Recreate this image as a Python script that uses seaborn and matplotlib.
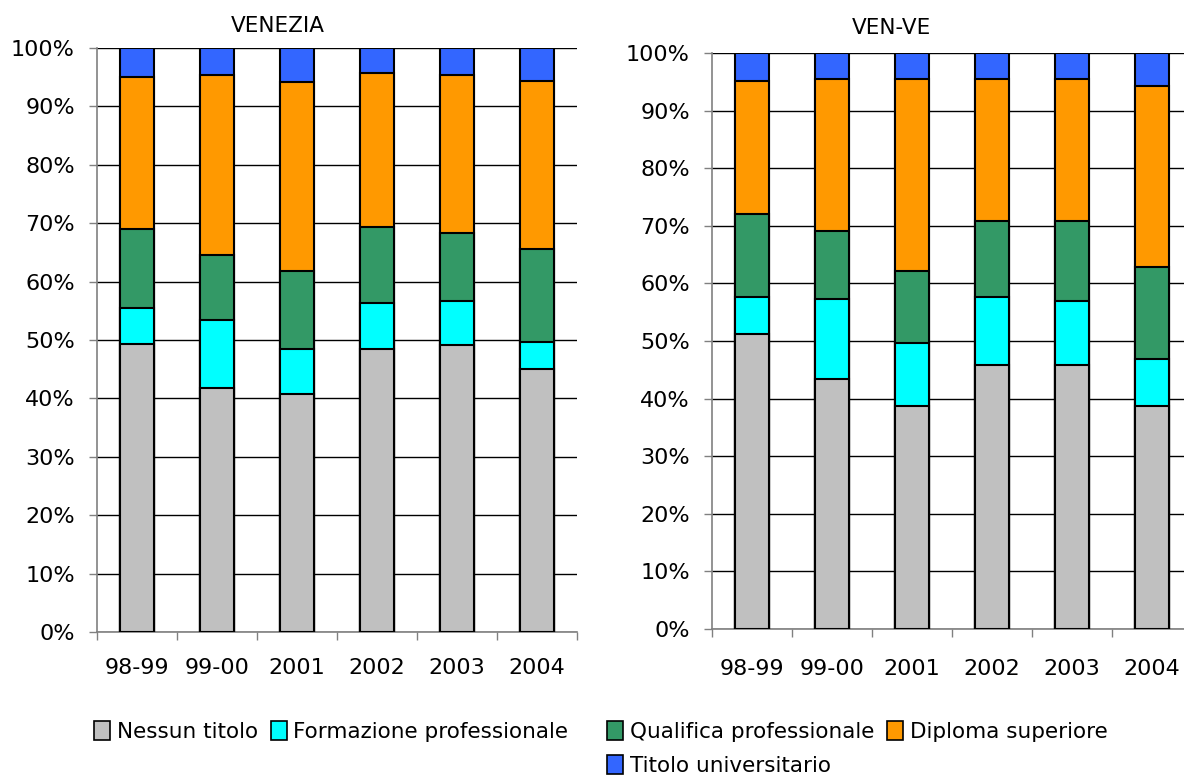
import matplotlib
matplotlib.use("Agg")

import matplotlib.pyplot as plt
import pandas as pd
import seaborn as sns
from matplotlib.patches import Patch
from matplotlib.ticker import FixedLocator

# ---------------------------------------------------------------------------
# Data (percent shares)
# ---------------------------------------------------------------------------
years = ["98-99", "99-00", "2001", "2002", "2003", "2004"]
categories = [
    "Nessun titolo",
    "Formazione professionale",
    "Qualifica professionale",
    "Diploma superiore",
    "Titolo universitario",
]
colors = ["#C0C0C0", "#00FFFF", "#339966", "#FF9900", "#3366FF"]

venezia_nessun = [49.4, 41.8, 40.8, 48.4, 49.1, 45.0]
venezia_formazione = [6.1, 11.7, 7.6, 7.9, 7.6, 4.7]
venezia_qualifica = [13.5, 11.0, 13.4, 13.1, 11.6, 15.9]
venezia_diploma = [26.1, 30.9, 32.3, 26.4, 27.1, 28.8]
venezia_laurea = [4.9, 4.6, 5.9, 4.2, 4.6, 5.6]

venve_nessun = [51.3, 43.4, 38.8, 45.8, 45.8, 38.8]
venve_formazione = [6.3, 13.9, 10.8, 11.8, 11.2, 8.1]
venve_qualifica = [14.4, 11.8, 12.6, 13.2, 13.8, 16.0]
venve_diploma = [23.2, 26.4, 33.3, 24.7, 24.7, 31.3]
venve_laurea = [4.8, 4.5, 4.5, 4.5, 4.5, 5.8]

panels = [
    ("VENEZIA", [venezia_nessun, venezia_formazione, venezia_qualifica,
                 venezia_diploma, venezia_laurea]),
    ("VEN-VE", [venve_nessun, venve_formazione, venve_qualifica,
                venve_diploma, venve_laurea]),
]

# ---------------------------------------------------------------------------
# Figure
# ---------------------------------------------------------------------------
sns.set_style("white")
plt.rcParams["font.family"] = ["DejaVu Sans"]
plt.rcParams["text.color"] = "black"
plt.rcParams["xtick.labelcolor"] = "black"
plt.rcParams["ytick.labelcolor"] = "black"

fig = plt.figure(figsize=(11.84, 7.79), dpi=100)
W, H = 1184, 779
# left px, right px, bottom px, top px, title x, title pad, xlabel pad
axes_px = [(97, 577, 632, 48, 0.377, 11.5, 19),
           (712, 1192, 629, 53, 0.373, 13.5, 21.5)]

for (title, series), (x0, x1, yb, yt, tx, tpad, xpad) in zip(panels, axes_px):
    ax = fig.add_axes([x0 / W, 1 - yb / H, (x1 - x0) / W, (yb - yt) / H])

    df = pd.DataFrame({"year": years})
    running = [0.0] * len(years)
    for cat, vals in zip(categories, series):
        running = [r + v for r, v in zip(running, vals)]
        df[cat] = running

    # stacked bars: draw cumulative totals, top layer first
    for cat, col in reversed(list(zip(categories, colors))):
        sns.barplot(data=df, x="year", y=cat, order=years, color=col,
                    saturation=1, width=0.42, edgecolor="black",
                    linewidth=1.5, errorbar=None, ax=ax, zorder=3)

    ax.set_xlim(-0.5, 5.5)
    ax.set_ylim(0, 100)
    ax.set_yticks(range(0, 101, 10))
    ax.set_yticklabels([f"{v}%" for v in range(0, 101, 10)])
    ax.xaxis.set_minor_locator(FixedLocator([i - 0.5 for i in range(7)]))
    ax.tick_params(axis="x", which="major", length=0, pad=xpad, labelsize=16)
    ax.tick_params(axis="x", which="minor", length=6, width=1,
                   color="#808080", direction="out", bottom=True)
    ax.tick_params(axis="y", length=6, width=1, color="#808080",
                   direction="out", left=True, pad=10, labelsize=16)
    ax.yaxis.grid(True, color="black", linewidth=1)
    ax.set_axisbelow(True)
    for side in ("top", "right"):
        ax.spines[side].set_visible(False)
    for side in ("left", "bottom"):
        ax.spines[side].set_color("#808080")
        ax.spines[side].set_linewidth(1.2)
    ax.set_xlabel("")
    ax.set_ylabel("")
    ax.set_title(title, fontsize=15.5, x=tx, pad=tpad, color="black")

# legend split in two blocks like the original
handles = [Patch(facecolor=c, edgecolor="black", linewidth=1.2) for c in colors]
leg_kw = dict(frameon=False, fontsize=15.5, handlelength=0.75,
              handleheight=0.95, handletextpad=0.3, columnspacing=0.6,
              labelspacing=0.62, borderpad=0, borderaxespad=0,
              loc="upper left")
fig.legend(handles[:2], categories[:2], ncol=2,
           bbox_to_anchor=(94 / W, 1 - 721 / H), **leg_kw)
fig.legend([handles[2], handles[4], handles[3]],
           [categories[2], categories[4], categories[3]], ncol=2,
           bbox_to_anchor=(607 / W, 1 - 721 / H), **leg_kw)

fig.savefig("out.png", dpi=100)
plt.close(fig)
